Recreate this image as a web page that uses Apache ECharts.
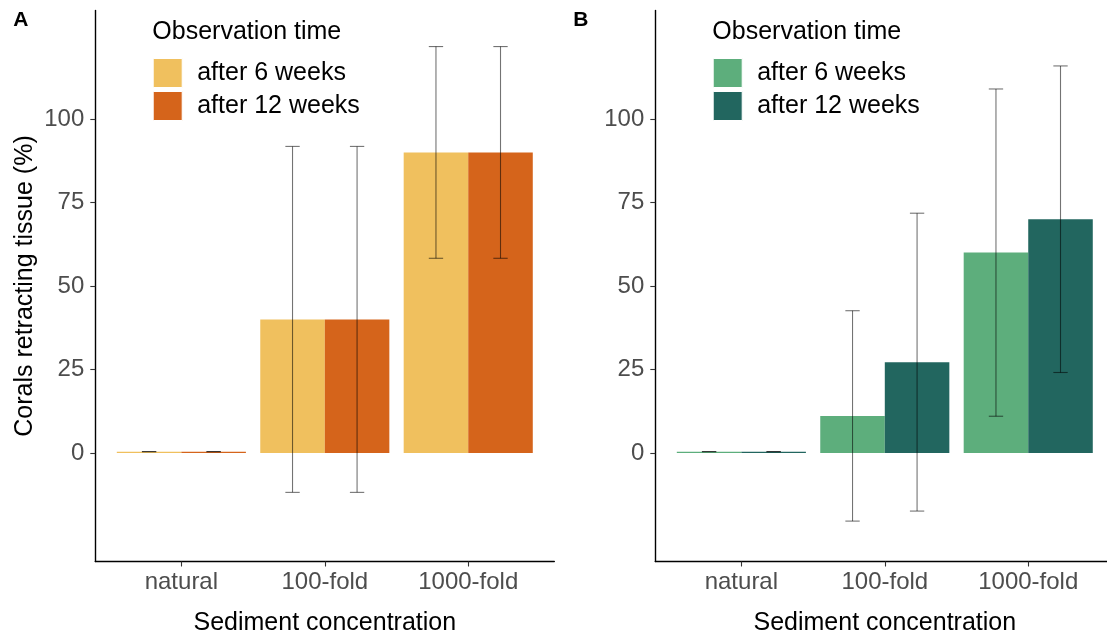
<!DOCTYPE html>
<html>
<head>
<meta charset="utf-8">
<script src="https://cdn.jsdelivr.net/npm/echarts@6/dist/echarts.min.js"></script>
<style>html,body{margin:0;padding:0;background:#fff}#c{width:1107px;height:632px}</style>
</head>
<body>
<div id="c"></div>
<script>
// ---- data ----
const categories = ['natural', '100-fold', '1000-fold'];
const seriesNames = ['after 6 weeks', 'after 12 weeks'];
const yTickValues = [0, 25, 50, 75, 100];
const xTickValues = [1, 2, 3];

// Panel A (mean, error half-width)
const aMean6 = [0.4, 40, 90];
const aErr6 = [0, 51.8, 31.7];
const aMean12 = [0.4, 40, 90];
const aErr12 = [0, 51.8, 31.7];

// Panel B
const bMean6 = [0.4, 11.1, 60];
const bErr6 = [0, 31.5, 49];
const bMean12 = [0.4, 27.2, 70];
const bErr12 = [0, 44.6, 45.9];

// ---- chart ----
const FONT = '"Liberation Sans", Arial, Helvetica, sans-serif';
const DODGE = 0.225, CAP = 0.05;
const panels = [
  { key: 'A', left: 95.3, colors: ['#F0C05E', '#D5641B'], means: [aMean6, aMean12], errs: [aErr6, aErr12] },
  { key: 'B', left: 655.3, colors: ['#5DAE7C', '#22665F'], means: [bMean6, bMean12], errs: [bErr6, bErr12] }
];

const grid = [], xAxis = [], yAxis = [], series = [], legend = [], title = [];
panels.forEach((p, i) => {
  grid.push({ left: p.left, top: 10.5, width: 459, height: 551, outerBoundsMode: 'none', containLabel: false });
  xAxis.push({
    type: 'value', gridIndex: i, min: 0.4, max: 3.6,
    axisLine: { show: true, onZero: false, lineStyle: { color: '#000', width: 1.4 } },
    axisTick: { show: true, customValues: xTickValues, length: 5, lineStyle: { color: '#333', width: 1.1 } },
    axisLabel: { customValues: xTickValues, formatter: v => categories[Math.round(v) - 1], color: '#4D4D4D', fontSize: 24, fontFamily: FONT, margin: 9 },
    splitLine: { show: false },
    name: 'Sediment concentration', nameLocation: 'middle', nameGap: 49,
    nameTextStyle: { color: '#000', fontSize: 25, fontFamily: FONT }
  });
  yAxis.push({
    type: 'value', gridIndex: i, min: -32.5, max: 132.5,
    axisLine: { show: true, onZero: false, lineStyle: { color: '#000', width: 1.4 } },
    axisTick: { show: true, customValues: yTickValues, length: 5, lineStyle: { color: '#333', width: 1.1 } },
    axisLabel: { customValues: yTickValues, color: '#4D4D4D', fontSize: 24, fontFamily: FONT, margin: 11 },
    splitLine: { show: false },
    name: i === 0 ? 'Corals retracting tissue (%)' : '', nameLocation: 'middle', nameGap: 58, nameRotate: 90,
    nameTextStyle: { color: '#000', fontSize: 25, fontFamily: FONT }
  });
  seriesNames.forEach((sn, s) => {
    series.push({
      type: 'bar', name: p.key + '|' + sn, xAxisIndex: i, yAxisIndex: i,
      data: categories.map((c, j) => [j + 1, p.means[s][j]]),
      itemStyle: { color: p.colors[s] },
      barGap: '0%', barCategoryGap: '10%', z: 2, silent: true
    });
  });
  seriesNames.forEach((sn, s) => {
    const off = s === 0 ? -DODGE : DODGE;
    series.push({
      type: 'custom', name: p.key + '|err|' + sn, xAxisIndex: i, yAxisIndex: i, z: 5, silent: true,
      data: categories.map((c, j) => [j + 1, p.means[s][j] - p.errs[s][j], p.means[s][j] + p.errs[s][j]]),
      renderItem: (params, api) => {
        const x = api.value(0) + off, lo = api.value(1), hi = api.value(2);
        const t = api.coord([x, hi]), b = api.coord([x, lo]);
        const tl = api.coord([x - CAP, hi]), tr = api.coord([x + CAP, hi]);
        const bl = api.coord([x - CAP, lo]), br = api.coord([x + CAP, lo]);
        const st = { stroke: 'rgba(0,0,0,0.55)', lineWidth: 1.1 };
        return { type: 'group', children: [
          { type: 'line', shape: { x1: t[0], y1: t[1], x2: b[0], y2: b[1] }, style: st },
          { type: 'line', shape: { x1: tl[0], y1: tl[1], x2: tr[0], y2: tr[1] }, style: st },
          { type: 'line', shape: { x1: bl[0], y1: bl[1], x2: br[0], y2: br[1] }, style: st }
        ]};
      }
    });
  });
  legend.push({
    data: seriesNames.map(sn => p.key + '|' + sn),
    formatter: n => n.split('|')[1],
    orient: 'vertical', left: p.left + 57.4, top: 58, padding: 0,
    itemWidth: 29, itemHeight: 29, itemGap: 3, icon: 'rect',
    itemStyle: { borderColor: '#fff', borderWidth: 1 },
    textStyle: { color: '#000', fontSize: 25, fontFamily: FONT, padding: [0, 0, 0, 10] },
    selectedMode: false
  });
  title.push({ text: p.key, left: p.left - 82, top: 10, padding: 0,
    textStyle: { color: '#000', fontSize: 21, fontWeight: 'bold', fontFamily: FONT } });
  title.push({ text: 'Observation time', left: p.left + 57, top: 20, padding: 0,
    textStyle: { color: '#000', fontSize: 25, fontWeight: 'normal', fontFamily: FONT } });
});

const chart = echarts.init(document.getElementById('c'));
chart.setOption({ animation: false, backgroundColor: '#fff', grid, xAxis, yAxis, series, legend, title });
</script>
</body>
</html>
